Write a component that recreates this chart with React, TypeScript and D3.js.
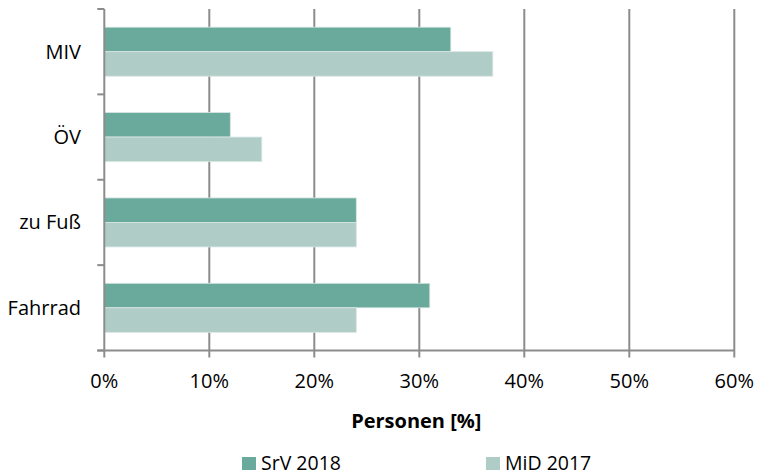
import React, { useEffect, useRef } from 'react';
import * as d3 from 'd3';

// Kategorien (von oben nach unten)
const categories = ['MIV', 'ÖV', 'zu Fuß', 'Fahrrad'];
const seriesNames = ['SrV 2018', 'MiD 2017'];
const srv2018 = [33, 12, 24, 31];
const mid2017 = [37, 15, 24, 24];
const xTicks = [0, 10, 20, 30, 40, 50, 60];
const colors = ['#6aaa9c', '#b0ccc6'];

export default function App() {
  const svgRef = useRef<SVGSVGElement>(null);

  useEffect(() => {
    const svg = d3.select(svgRef.current);
    svg.selectAll('*').remove();

    const font = '"Open Sans", sans-serif';
    const left = 104.3, right = 734.3, top = 9, bottom = 350.5;

    const x = d3.scaleLinear().domain([0, 60]).range([left, right]);
    const y0 = d3.scaleBand<string>()
      .domain(categories)
      .range([top, bottom])
      .paddingInner(0.426)
      .paddingOuter(0.213);
    const y1 = d3.scaleBand<string>()
      .domain(seriesNames)
      .range([0, y0.bandwidth()]);

    const grid = '#8c8c8c';

    // Gitterlinien
    svg.append('g')
      .selectAll('line')
      .data(xTicks.slice(1))
      .enter()
      .append('line')
      .attr('x1', d => x(d))
      .attr('x2', d => x(d))
      .attr('y1', top)
      .attr('y2', bottom + 7)
      .attr('stroke', grid)
      .attr('stroke-width', 2);

    // Balken
    const rows = categories.map((c, i) => ({ c, vals: [srv2018[i], mid2017[i]] }));
    const g = svg.append('g');
    rows.forEach(r => {
      r.vals.forEach((v, j) => {
        g.append('rect')
          .attr('x', x(0))
          .attr('y', (y0(r.c) as number) + (y1(seriesNames[j]) as number))
          .attr('width', x(v) - x(0))
          .attr('height', y1.bandwidth())
          .attr('fill', colors[j])
          .attr('stroke', '#d7e6e2')
          .attr('stroke-width', 0.8);
      });
    });

    // Y-Achse
    svg.append('line')
      .attr('x1', left).attr('x2', left)
      .attr('y1', top).attr('y2', bottom + 7)
      .attr('stroke', grid).attr('stroke-width', 2);
    const yBounds = [top, ...categories.map(c => (y0(c) as number) + y0.bandwidth() + y0.step() * 0.213)];
    svg.append('g')
      .selectAll('line')
      .data(yBounds)
      .enter()
      .append('line')
      .attr('x1', left - 7).attr('x2', left)
      .attr('y1', d => d).attr('y2', d => d)
      .attr('stroke', grid).attr('stroke-width', 2);

    // X-Achse
    svg.append('line')
      .attr('x1', left - 7).attr('x2', right)
      .attr('y1', bottom).attr('y2', bottom)
      .attr('stroke', grid).attr('stroke-width', 2);

    // Kategorie-Beschriftungen
    svg.append('g')
      .selectAll('text')
      .data(categories)
      .enter()
      .append('text')
      .attr('x', 81)
      .attr('y', d => (y0(d) as number) + y0.bandwidth() / 2)
      .attr('dy', '0.35em')
      .attr('text-anchor', 'end')
      .attr('font-family', font)
      .attr('font-size', 20)
      .attr('fill', '#000')
      .text(d => d);

    // X-Tick-Beschriftungen
    svg.append('g')
      .selectAll('text')
      .data(xTicks)
      .enter()
      .append('text')
      .attr('x', d => x(d))
      .attr('y', 388)
      .attr('text-anchor', 'middle')
      .attr('font-family', font)
      .attr('font-size', 20)
      .attr('fill', '#000')
      .text(d => `${d}%`);

    // Achsentitel
    svg.append('text')
      .attr('x', (left + right) / 2 - 3)
      .attr('y', 428)
      .attr('text-anchor', 'middle')
      .attr('font-family', font)
      .attr('font-size', 20)
      .attr('font-weight', 'bold')
      .attr('fill', '#000')
      .text('Personen [%]');

    // Legende
    const legendX = [242, 486];
    seriesNames.forEach((n, i) => {
      svg.append('rect')
        .attr('x', legendX[i]).attr('y', 457)
        .attr('width', 14).attr('height', 13)
        .attr('fill', colors[i]);
      svg.append('text')
        .attr('x', legendX[i] + 19)
        .attr('y', 469.5)
        .attr('font-family', font)
        .attr('font-size', 19.5)
        .attr('fill', '#000')
        .text(n);
    });
  }, []);

  return (
    <svg
      ref={svgRef}
      width={759}
      height={475}
      style={{ position: 'absolute', left: 0, top: 0, background: '#fff' }}
    />
  );
}
